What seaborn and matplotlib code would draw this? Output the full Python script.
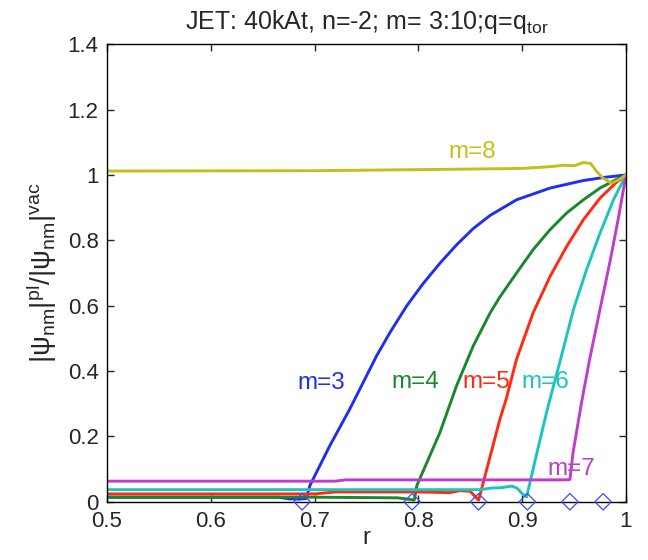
import matplotlib
matplotlib.use("Agg")
import matplotlib.pyplot as plt
import pandas as pd
import seaborn as sns

# Normalised plasma response |psi_nm|^pl / |psi_nm|^vac for each poloidal mode m
r_m3 = [0.5, 0.60, 0.665, 0.675, 0.685, 0.692, 0.6956, 0.7148, 0.734, 0.7597, 0.7727,
        0.7887, 0.8047, 0.8208, 0.8368, 0.8529, 0.869, 0.8946, 0.927, 0.959, 0.98, 1.0]
v_m3 = [0.014, 0.014, 0.014, 0.009, 0.008, 0.010, 0.05, 0.172, 0.284, 0.446, 0.518,
        0.599, 0.668, 0.730, 0.786, 0.836, 0.876, 0.924, 0.960, 0.983, 0.993, 1.0]

r_m4 = [0.5, 0.70, 0.78, 0.79, 0.796, 0.7986, 0.8208, 0.8368, 0.8529, 0.869, 0.8786,
        0.8946, 0.9107, 0.927, 0.943, 0.959, 0.975, 0.99, 1.0]
v_m4 = [0.014, 0.014, 0.012, 0.008, 0.005, 0.05, 0.212, 0.355, 0.477, 0.577, 0.627,
        0.700, 0.772, 0.833, 0.884, 0.924, 0.960, 0.985, 1.0]

r_m5 = [0.5, 0.70, 0.72, 0.80, 0.83, 0.84, 0.85, 0.855, 0.858, 0.861, 0.8786, 0.8846,
        0.8946, 0.9107, 0.927, 0.943, 0.959, 0.975, 0.99, 1.0]
v_m5 = [0.024, 0.024, 0.030, 0.030, 0.028, 0.034, 0.032, 0.015, 0.005, 0.04, 0.253, 0.314,
        0.436, 0.579, 0.690, 0.782, 0.863, 0.929, 0.975, 1.0]

r_m6 = [0.5, 0.86, 0.87, 0.88, 0.89, 0.895, 0.900, 0.9043, 0.915, 0.924, 0.937, 0.9495,
        0.962, 0.975, 0.988, 1.0]
v_m6 = [0.037, 0.037, 0.042, 0.043, 0.048, 0.042, 0.025, 0.015, 0.16, 0.28, 0.436, 0.589,
        0.710, 0.822, 0.924, 1.0]

r_m7 = [0.5, 0.72, 0.73, 0.94, 0.946, 0.949, 0.957, 0.965, 0.975, 0.985, 0.993, 1.0]
v_m7 = [0.063, 0.063, 0.067, 0.067, 0.068, 0.15, 0.30, 0.436, 0.589, 0.741, 0.873, 1.0]

r_m8 = [0.5, 0.7, 0.85, 0.90, 0.93, 0.94, 0.95, 0.959, 0.966, 0.972, 0.978, 0.986, 0.993, 1.0]
v_m8 = [1.012, 1.013, 1.018, 1.02, 1.026, 1.03, 1.028, 1.038, 1.035, 1.01, 0.99, 0.975,
        0.985, 1.0]

# Rational surface positions q = m/n
r_rational = [0.688, 0.794, 0.858, 0.905, 0.946, 0.978]

modes = ["m=3", "m=4", "m=5", "m=6", "m=7", "m=8"]
mode_colors = ["#1f2ff0", "#17892a", "#ff2a10", "#1cc4c0", "#c03ccc", "#c4bf1c"]
label_pos = [(0.684, 0.362), (0.774, 0.366), (0.842, 0.366), (0.899, 0.366),
             (0.924, 0.100), (0.829, 1.070)]

curves = [(r_m3, v_m3), (r_m4, v_m4), (r_m5, v_m5), (r_m6, v_m6), (r_m7, v_m7), (r_m8, v_m8)]
df = pd.concat(
    [pd.DataFrame({"r": rr, "val": vv, "mode": name})
     for name, (rr, vv) in zip(modes, curves)],
    ignore_index=True,
)

sns.set_style("ticks")
plt.rcParams["font.family"] = ["Liberation Sans", "DejaVu Sans"]
plt.rcParams["mathtext.fontset"] = "custom"
plt.rcParams["mathtext.rm"] = "Liberation Sans"
plt.rcParams["mathtext.it"] = "Liberation Sans:italic"

fig = plt.figure(figsize=(6.48, 5.6), dpi=100)
ax = fig.add_axes([0.165, 0.104, 0.801, 0.817])

sns.lineplot(data=df, x="r", y="val", hue="mode", hue_order=modes,
             palette=dict(zip(modes, mode_colors)), estimator=None, sort=False,
             units="mode", linewidth=2.1, legend=False, ax=ax)

sns.scatterplot(x=r_rational, y=[0.0] * len(r_rational), marker="D", s=70,
                facecolor="none", edgecolor="#3b4cf0", linewidth=0.9,
                ax=ax, clip_on=False, zorder=5)

for name, col, (tx, ty) in zip(modes, mode_colors, label_pos):
    ax.text(tx, ty, name, color=col, fontsize=17.5, ha="left", va="center")

ax.set_xlim(0.5, 1.0)
ax.set_ylim(0, 1.4)
ax.set_xticks([0.5, 0.6, 0.7, 0.8, 0.9, 1.0])
ax.set_xticklabels(["0.5", "0.6", "0.7", "0.8", "0.9", "1"])
ax.set_yticks([0, 0.2, 0.4, 0.6, 0.8, 1.0, 1.2, 1.4])
ax.set_yticklabels(["0", "0.2", "0.4", "0.6", "0.8", "1", "1.2", "1.4"])
ax.tick_params(direction="in", top=True, right=True, labelsize=16, length=5,
               width=1)
ax.tick_params(axis="x", pad=7)
ax.tick_params(axis="y", pad=6)
for s in ax.spines.values():
    s.set_visible(True)
    s.set_linewidth(1.0)
    s.set_color("black")

ax.set_xlabel("r", fontsize=17, labelpad=-4)
ax.set_ylabel(r"$|\mathrm{ψ}_{\rm nm}|^{\rm pl}/|\mathrm{ψ}_{\rm nm}|^{\rm vac}$",
              fontsize=20, labelpad=6)
ax.set_title(r"JET: 40kAt, n=-2; m= 3:10;q=q$_{\rm tor}$", fontsize=18, pad=11)

fig.savefig("out.png", dpi=100)
